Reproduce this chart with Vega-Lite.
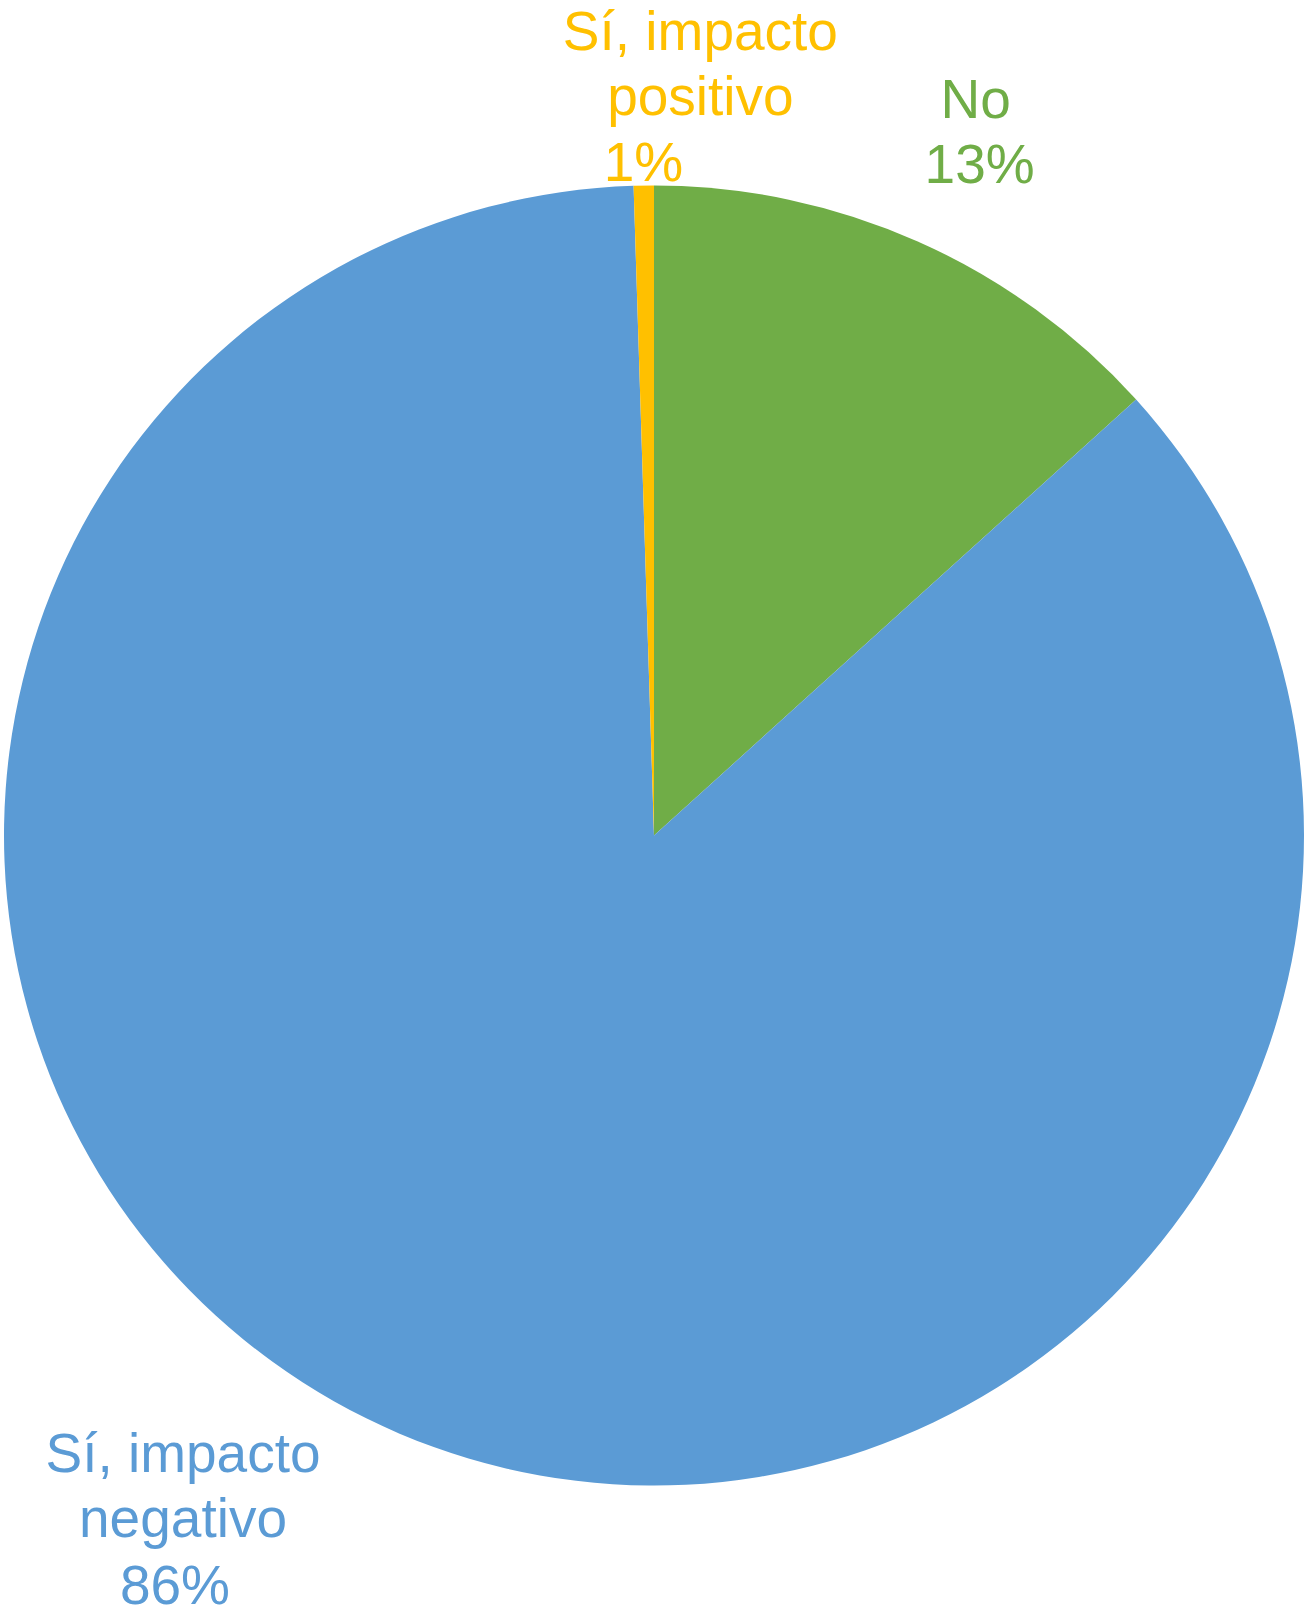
{
  "$schema": "https://vega.github.io/schema/vega-lite/v6.json",
  "autosize": {"type": "none"},
  "width": 1308,
  "height": 1567,
  "padding": {"top": 52, "left": 0, "right": 0, "bottom": 0},
  "background": "white",
  "data": {
    "values": [
      {"cat": "No", "value": 13.3, "order": 1, "name": "No", "pct": "13%"},
      {"cat": "Sí, impacto negativo", "value": 86.2, "order": 2, "name": "Sí, impacto\nnegativo", "pct": "86%"},
      {"cat": "Sí, impacto positivo", "value": 0.5, "order": 3, "name": "Sí, impacto\npositivo", "pct": "1%"}
    ]
  },
  "encoding": {
    "theta": {"field": "value", "type": "quantitative", "stack": true},
    "order": {"field": "order", "type": "quantitative"},
    "color": {
      "field": "cat",
      "type": "nominal",
      "scale": {
        "domain": ["No", "Sí, impacto negativo", "Sí, impacto positivo"],
        "range": ["#70AD47", "#5B9BD5", "#FFC000"]
      },
      "legend": null
    }
  },
  "layer": [
    {"mark": {"type": "arc", "outerRadius": 650}},
    {
      "mark": {"type": "text", "radius": 768, "dx": 10, "dy": -33, "fontSize": 55, "font": "Liberation Sans", "lineBreak": "\n", "lineHeight": 65, "align": "center", "baseline": "middle"},
      "encoding": {"text": {"condition": {"test": "datum.cat === 'No'", "field": "name", "type": "nominal"}, "value": ""}}
    },
    {
      "mark": {"type": "text", "radius": 768, "dx": 14, "dy": 32, "fontSize": 55, "font": "Liberation Sans", "lineBreak": "\n", "lineHeight": 65, "align": "center", "baseline": "middle"},
      "encoding": {"text": {"condition": {"test": "datum.cat === 'No'", "field": "pct", "type": "nominal"}, "value": ""}}
    },
    {
      "mark": {"type": "text", "radius": 741, "dx": -181, "dy": -62, "fontSize": 55, "font": "Liberation Sans", "lineBreak": "\n", "lineHeight": 65, "align": "center", "baseline": "middle"},
      "encoding": {"text": {"condition": {"test": "datum.cat === 'Sí, impacto negativo'", "field": "name", "type": "nominal"}, "value": ""}}
    },
    {
      "mark": {"type": "text", "radius": 741, "dx": -189, "dy": 70, "fontSize": 55, "font": "Liberation Sans", "lineBreak": "\n", "lineHeight": 65, "align": "center", "baseline": "middle"},
      "encoding": {"text": {"condition": {"test": "datum.cat === 'Sí, impacto negativo'", "field": "pct", "type": "nominal"}, "value": ""}}
    },
    {
      "mark": {"type": "text", "radius": 740, "dx": 58, "dy": -63, "fontSize": 55, "font": "Liberation Sans", "lineBreak": "\n", "lineHeight": 65, "align": "center", "baseline": "middle"},
      "encoding": {"text": {"condition": {"test": "datum.cat === 'Sí, impacto positivo'", "field": "name", "type": "nominal"}, "value": ""}}
    },
    {
      "mark": {"type": "text", "radius": 740, "dx": 1, "dy": 68, "fontSize": 55, "font": "Liberation Sans", "lineBreak": "\n", "lineHeight": 65, "align": "center", "baseline": "middle"},
      "encoding": {"text": {"condition": {"test": "datum.cat === 'Sí, impacto positivo'", "field": "pct", "type": "nominal"}, "value": ""}}
    }
  ],
  "config": {"view": {"stroke": null}}
}
